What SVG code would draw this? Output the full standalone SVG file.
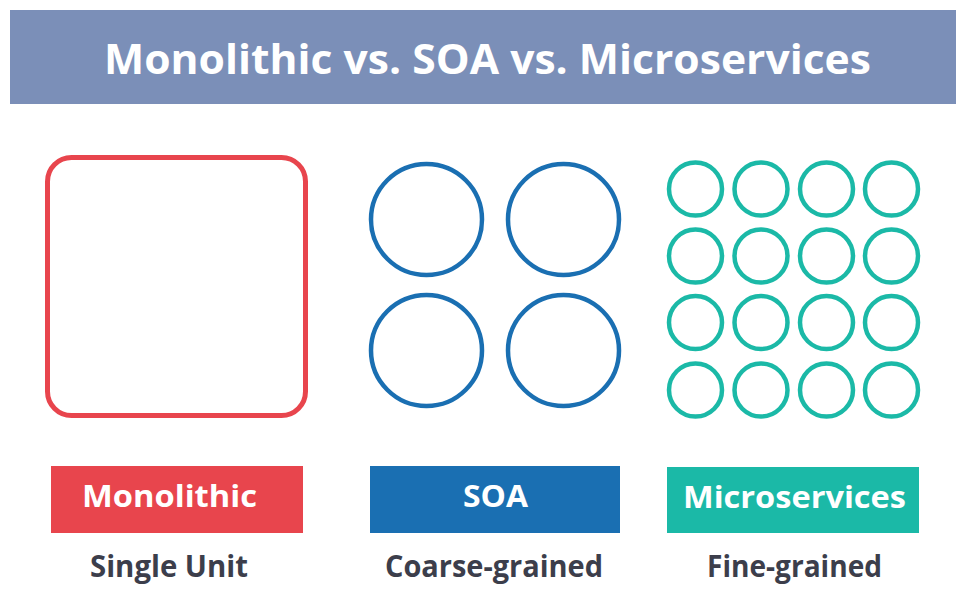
<svg xmlns="http://www.w3.org/2000/svg" width="956" height="610" viewBox="0 0 956 610">
<style>
.ttl{font-family:"Open Sans","Liberation Sans",sans-serif;font-weight:700;fill:#ffffff}
.lbl{font-family:"Open Sans","Liberation Sans",sans-serif;font-weight:700;font-size:30px;fill:#ffffff}
.sub{font-family:"Open Sans","Liberation Sans",sans-serif;font-weight:700;font-size:30px;fill:#3c3e4b}
.soa{fill:none;stroke:#1a6fb2;stroke-width:4.5}
.ms{fill:none;stroke:#1bb9a7;stroke-width:4.5}
</style>
<rect width="956" height="610" fill="#ffffff"/>
<g id="header">
<rect x="10" y="10" width="946" height="94" fill="#7b8fb8"/>
<text class="ttl" x="104" y="74" font-size="42" textLength="767" lengthAdjust="spacingAndGlyphs">Monolithic vs. SOA vs. Microservices</text>
</g>
<g id="monolithic-shape">
<rect x="47.5" y="157.5" width="258" height="258" rx="24" fill="none" stroke="#e8454d" stroke-width="5"/>
</g>
<g id="soa-shapes">
<circle class="soa" cx="426.5" cy="219.5" r="55.5"/>
<circle class="soa" cx="563.5" cy="219.5" r="55.5"/>
<circle class="soa" cx="426.5" cy="350.5" r="55.5"/>
<circle class="soa" cx="563.5" cy="350.5" r="55.5"/>
</g>
<g id="microservices-shapes">
<circle class="ms" cx="695.5" cy="189" r="26.5"/>
<circle class="ms" cx="761" cy="189" r="26.5"/>
<circle class="ms" cx="826.5" cy="189" r="26.5"/>
<circle class="ms" cx="891.5" cy="189" r="26.5"/>
<circle class="ms" cx="695.5" cy="256" r="26.5"/>
<circle class="ms" cx="761" cy="256" r="26.5"/>
<circle class="ms" cx="826.5" cy="256" r="26.5"/>
<circle class="ms" cx="891.5" cy="256" r="26.5"/>
<circle class="ms" cx="695.5" cy="322.5" r="26.5"/>
<circle class="ms" cx="761" cy="322.5" r="26.5"/>
<circle class="ms" cx="826.5" cy="322.5" r="26.5"/>
<circle class="ms" cx="891.5" cy="322.5" r="26.5"/>
<circle class="ms" cx="695.5" cy="390" r="26.5"/>
<circle class="ms" cx="761" cy="390" r="26.5"/>
<circle class="ms" cx="826.5" cy="390" r="26.5"/>
<circle class="ms" cx="891.5" cy="390" r="26.5"/>
</g>
<g id="monolithic-label">
<rect x="51" y="466" width="252" height="67" fill="#e8454d"/>
<text class="lbl" x="82" y="507" textLength="175" lengthAdjust="spacingAndGlyphs">Monolithic</text>
<text class="sub" x="90" y="577" textLength="158" lengthAdjust="spacingAndGlyphs">Single Unit</text>
</g>
<g id="soa-label">
<rect x="370" y="466" width="250" height="67" fill="#1a6fb2"/>
<text class="lbl" x="463" y="507" textLength="65" lengthAdjust="spacingAndGlyphs">SOA</text>
<text class="sub" x="385" y="577" textLength="218" lengthAdjust="spacingAndGlyphs">Coarse-grained</text>
</g>
<g id="microservices-label">
<rect x="667" y="467" width="252" height="66" fill="#1bb9a7"/>
<text class="lbl" x="683" y="508" textLength="223" lengthAdjust="spacingAndGlyphs">Microservices</text>
<text class="sub" x="707" y="577" textLength="175" lengthAdjust="spacingAndGlyphs">Fine-grained</text>
</g>
<g id="connectors"/>
</svg>
